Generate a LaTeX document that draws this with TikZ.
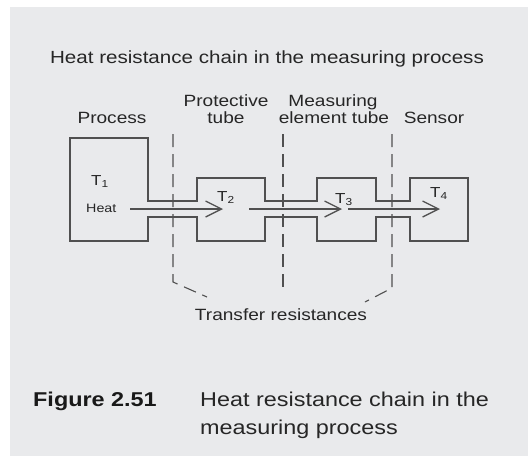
\documentclass[tikz,border=0pt]{standalone}
\usepackage{fontspec}
\setmainfont{Liberation Sans}[FakeStretch=1.17]
\usetikzlibrary{arrows.meta}
\definecolor{panel}{RGB}{233,234,236}
\definecolor{ink}{RGB}{80,80,80}
\definecolor{txt}{RGB}{38,38,38}

\tikzset{
  lbl/.style={font=\fontsize{16.3}{17}\selectfont, text=txt, inner sep=0pt, anchor=base, align=center},
  tlbl/.style={font=\fontsize{14.5}{15}\selectfont, text=txt, inner sep=0pt, anchor=base west},
  wall/.style={draw=ink, line width=1.25pt, line join=miter},
  sep/.style={draw=ink, line width=1.1pt, dash pattern=on 13pt off 7pt},
  flow/.style={draw=ink, line width=1.25pt, -{Straight Barb[length=16pt,width=16pt]}}
}

\begin{document}
\begin{tikzpicture}[x=1pt,y=-1pt]
\useasboundingbox (0,0) rectangle (528,456);
\fill[white] (0,0) rectangle (528,456);
\fill[panel] (10,7) rectangle (528,456);

% title and column labels
\node[lbl, font=\fontsize{17.6}{18}\selectfont] (title) at (267,63) {Heat resistance chain in the measuring process};
\node[lbl] (process) at (112,123) {Process};
\node[lbl] (prot1) at (226,106.5) {Protective};
\node[lbl] (prot2) at (226,123) {tube};
\node[lbl] (meas1) at (333,106.5) {Measuring};
\node[lbl] (meas2) at (334,123) {element tube};
\node[lbl] (sensor) at (434,123) {Sensor};

% walls of process, tubes and sensor
\draw[wall] (148,201) -- (148,138) -- (70,138) -- (70,241) -- (148,241) -- (148,217)
  -- (197,217) -- (197,241) -- (265,241) -- (265,217) -- (317,217) -- (317,241)
  -- (376,241) -- (376,217) -- (410,217) -- (410,241) -- (468,241) -- (468,178)
  -- (410,178) -- (410,201) -- (376,201) -- (376,178) -- (317,178) -- (317,201)
  -- (265,201) -- (265,178) -- (197,178) -- (197,201) -- cycle;

% temperatures
\node[tlbl] (t1) at (91,185) {T\textsubscript{1}};
\node[tlbl, font=\fontsize{12.2}{12}\selectfont] (heat) at (86,212) {Heat};
\node[tlbl] (t2) at (217,201) {T\textsubscript{2}};
\node[tlbl] (t3) at (335,203) {T\textsubscript{3}};
\node[tlbl] (t4) at (430,197) {T\textsubscript{4}};

% heat flow
\coordinate (f1a) at (130,209);
\coordinate (f1b) at (223,209);
\coordinate (f2a) at (249,209);
\coordinate (f2b) at (342,209);
\coordinate (f3a) at (348,209);
\coordinate (f3b) at (440,209);
\draw[flow] (f1a) -- (f1b);
\draw[flow] (f2a) -- (f2b);
\draw[flow] (f3a) -- (f3b);

% transfer boundaries
\coordinate (s1top) at (173,134);
\coordinate (s1bend) at (173,282);
\coordinate (s1end) at (207,297);
\coordinate (s2top) at (283,134);
\coordinate (s2end) at (283,287);
\coordinate (s3top) at (392,134);
\coordinate (s3bend) at (392,288);
\coordinate (s3end) at (365,302);
\draw[sep] (s1top) -- (s1bend) -- (s1end);
\draw[sep] (s2top) -- (s2end);
\draw[sep] (s3top) -- (s3bend) -- (s3end);

\node[lbl] (transfer) at (281,320) {Transfer resistances};

% caption
\node[lbl, anchor=base west, font=\fontsize{20}{28}\bfseries, text=black!90] (fig) at (33,406) {Figure 2.51};
\node[lbl, anchor=base west, align=left, font=\fontsize{20}{28}\selectfont, text=black!85] (cap) at (200,434) {Heat resistance chain in the\\measuring process};
\end{tikzpicture}
\end{document}
